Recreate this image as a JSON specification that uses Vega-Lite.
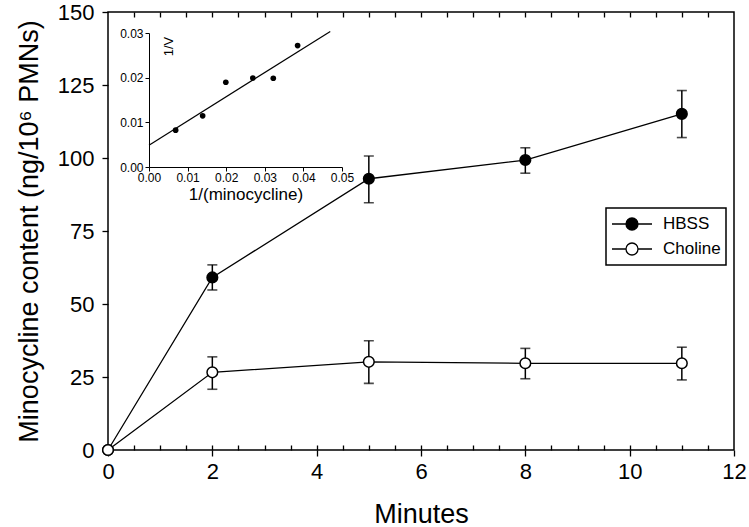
{
  "$schema": "https://vega.github.io/schema/vega-lite/v6.json",
  "width": 626,
  "height": 438,
  "autosize": "none",
  "padding": {"left": 108, "top": 12, "right": 15, "bottom": 77},
  "background": "white",
  "config": {
    "view": {"stroke": "black", "strokeWidth": 1.5},
    "axis": {
      "grid": false,
      "labelFont": "Liberation Sans",
      "titleFont": "Liberation Sans",
      "titleFontWeight": "normal",
      "labelColor": "black",
      "titleColor": "black",
      "tickColor": "black",
      "domainColor": "black",
      "tickWidth": 1.3,
      "labelFlush": false,
      "labelOverlap": false
    },
    "legend": {"strokeWidth": 1.5}
  },
  "datasets": {
    "main": [
      {"series": "HBSS", "minutes": 0, "value": 0, "lo": null, "hi": null},
      {"series": "HBSS", "minutes": 2, "value": 59.1, "lo": 54.8, "hi": 63.4},
      {"series": "HBSS", "minutes": 5, "value": 92.9, "lo": 84.7, "hi": 100.7},
      {"series": "HBSS", "minutes": 8, "value": 99.3, "lo": 94.8, "hi": 103.5},
      {"series": "HBSS", "minutes": 11, "value": 115.1, "lo": 107, "hi": 123.1},
      {"series": "Choline", "minutes": 0, "value": 0, "lo": null, "hi": null},
      {"series": "Choline", "minutes": 2, "value": 26.6, "lo": 20.8, "hi": 31.9},
      {"series": "Choline", "minutes": 5, "value": 30.2, "lo": 22.8, "hi": 37.4},
      {"series": "Choline", "minutes": 8, "value": 29.7, "lo": 24.4, "hi": 34.8},
      {"series": "Choline", "minutes": 11, "value": 29.7, "lo": 24, "hi": 35.2}
    ],
    "inset": [
      {"ix": 0.0069, "iy": 0.00825},
      {"ix": 0.0139, "iy": 0.01146},
      {"ix": 0.0199, "iy": 0.01897},
      {"ix": 0.0269, "iy": 0.01993},
      {"ix": 0.0322, "iy": 0.01986},
      {"ix": 0.0385, "iy": 0.02719}
    ],
    "fit": [
      {"x1": 0, "y1": 0.00488, "x2": 0.04696, "y2": 0.03034}
    ]
  },
  "layer": [
    {
      "data": {"name": "main"},
      "mark": {"type": "line", "color": "black", "strokeWidth": 1.3},
      "encoding": {
        "x": {
          "field": "minutes", "type": "quantitative",
          "scale": {"domain": [0, 12], "nice": false},
          "axis": {
            "orient": "bottom",
            "values": [0.5, 1, 1.5, 2, 2.5, 3, 3.5, 4, 4.5, 5, 5.5, 6, 6.5, 7, 7.5, 8, 8.5, 9, 9.5, 10, 10.5, 11, 11.5],
            "grid": true, "gridColor": "black", "gridWidth": 1.3, "gridOpacity": 1,
            "gridDash": [5, 428, 5, 1000],
            "ticks": false, "labels": false, "domain": false, "title": null
          }
        },
        "y": {
          "field": "value", "type": "quantitative",
          "scale": {"domain": [0, 150], "nice": false},
          "axis": null
        },
        "detail": {"field": "series"}
      }
    },
    {
      "data": {"name": "main"},
      "transform": [{"filter": {"field": "lo", "valid": true}}],
      "mark": {
        "type": "errorbar", "color": "black",
        "ticks": {"size": 10, "thickness": 1.6, "color": "black"},
        "rule": {"strokeWidth": 1.5, "color": "black"}
      },
      "encoding": {
        "x": {
          "field": "minutes", "type": "quantitative",
          "scale": {"domain": [0, 12], "nice": false},
          "axis": {
            "orient": "bottom",
            "values": [0, 2, 4, 6, 8, 10, 12],
            "tickSize": 6, "domain": false,
            "labelFontSize": 22, "labelPadding": 5,
            "title": "Minutes", "titleFontSize": 27, "titlePadding": 19
          }
        },
        "y": {
          "field": "lo", "type": "quantitative",
          "scale": {"domain": [0, 150], "nice": false},
          "axis": {
            "orient": "left",
            "values": [0, 25, 50, 75, 100, 125, 150],
            "tickSize": 6, "domain": false,
            "labelFontSize": 22, "labelPadding": 8,
            "title": "Minocycline content (ng/10⁶ PMNs)", "titleFontSize": 27, "titlePadding": 14
          }
        },
        "y2": {"field": "hi"}
      }
    },
    {
      "data": {"name": "main"},
      "mark": {"type": "point", "shape": "circle", "filled": true, "size": 113, "stroke": "black", "strokeWidth": 1.5, "opacity": 1},
      "encoding": {
        "x": {
          "field": "minutes", "type": "quantitative",
          "scale": {"domain": [0, 12], "nice": false},
          "axis": null
        },
        "y": {
          "field": "value", "type": "quantitative",
          "scale": {"domain": [0, 150], "nice": false},
          "axis": null
        },
        "fill": {
          "field": "series", "type": "nominal",
          "scale": {"domain": ["HBSS", "Choline"], "range": ["black", "white"]},
          "legend": {
            "title": null, "orient": "none", "legendX": 498, "legendY": 196,
            "symbolType": "M-1,0H-0.3M0.3,0H1M-0.3,0A0.3,0.3,0,1,1,0.3,0A0.3,0.3,0,1,1,-0.3,0Z",
            "symbolSize": 1600, "symbolStrokeColor": "black", "symbolStrokeWidth": 1.3,
            "labelFont": "Liberation Sans", "labelFontSize": 17, "labelColor": "black",
            "labelOffset": 10, "padding": 5, "strokeColor": "black",
            "clipHeight": 22, "rowPadding": 3
          }
        }
      }
    },
    {
      "data": {"name": "fit"},
      "mark": {"type": "rule", "color": "black", "strokeWidth": 1.2},
      "encoding": {
        "x": {
          "field": "x1", "type": "quantitative",
          "scale": {"domain": [0, 0.05], "range": [41, 234], "nice": false, "zero": false},
          "axis": {
            "orient": "bottom", "offset": -283,
            "values": [0, 0.01, 0.02, 0.03, 0.04, 0.05], "format": ".2f",
            "tickSize": 4, "tickWidth": 1, "domainWidth": 1,
            "labelFontSize": 12, "labelPadding": 1,
            "title": "1/(minocycline)", "titleFontSize": 17, "titlePadding": 3
          }
        },
        "y": {
          "field": "y1", "type": "quantitative",
          "scale": {"domain": [0, 0.03], "range": [155, 21], "nice": false},
          "axis": {
            "orient": "left", "offset": -41,
            "values": [0, 0.01, 0.02, 0.03], "format": ".2f",
            "tickSize": 4, "tickWidth": 1, "domainWidth": 1,
            "labelFontSize": 12, "labelPadding": 2,
            "title": "1/V", "titleFontSize": 13, "titleAngle": 270,
            "titleX": 19, "titleY": 34, "titleAlign": "center", "titleBaseline": "middle"
          }
        },
        "x2": {"field": "x2"},
        "y2": {"field": "y2"}
      }
    },
    {
      "data": {"name": "inset"},
      "mark": {"type": "circle", "size": 32, "color": "black", "opacity": 1},
      "encoding": {
        "x": {
          "field": "ix", "type": "quantitative",
          "scale": {"domain": [0, 0.05], "range": [41, 234], "nice": false, "zero": false},
          "axis": null
        },
        "y": {
          "field": "iy", "type": "quantitative",
          "scale": {"domain": [0, 0.03], "range": [155, 21], "nice": false},
          "axis": null
        }
      }
    }
  ],
  "resolve": {"scale": {"x": "independent", "y": "independent"}}
}
